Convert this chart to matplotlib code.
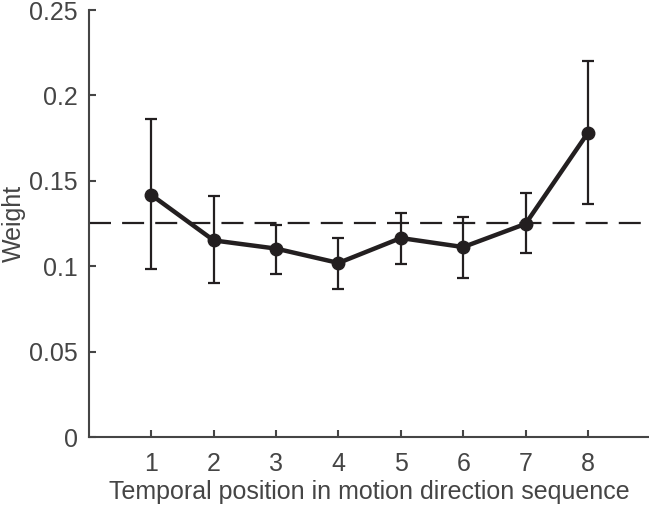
import matplotlib
matplotlib.use("Agg")
import matplotlib.pyplot as plt

positions = [1, 2, 3, 4, 5, 6, 7, 8]
weights = [0.1417, 0.1151, 0.1103, 0.1019, 0.1165, 0.1112, 0.1248, 0.1781]
err_upper = [0.1862, 0.1413, 0.1242, 0.1165, 0.1314, 0.1289, 0.1430, 0.2202]
err_lower = [0.0984, 0.0903, 0.0955, 0.0868, 0.1013, 0.0932, 0.1077, 0.1362]
chance = 0.125
yticks = [0, 0.05, 0.1, 0.15, 0.2, 0.25]
yticklabels = ["0", "0.05", "0.1", "0.15", "0.2", "0.25"]

plt.rcParams['font.family'] = ['Liberation Sans', 'DejaVu Sans']
txt = '#454545'
ink = '#231f20'

fig = plt.figure(figsize=(6.49, 5.11), dpi=100)
ax = fig.add_axes([89/649, 1 - 437/511, 1 - 89/649 + 0.002, (437 - 10)/511])

ax.axhline(chance, color=ink, lw=1.6, dashes=(9.9, 5.0), zorder=1)
yerr = [[w - l for w, l in zip(weights, err_lower)], [u - w for w, u in zip(weights, err_upper)]]
ax.errorbar(positions, weights, yerr=yerr, fmt='none', ecolor=ink, elinewidth=1.6,
            capsize=4, capthick=1.6, zorder=2)
ax.plot(positions, weights, color=ink, lw=3.2, marker='o', markersize=9, zorder=3)

ax.set_xlim(0, 9)
ax.set_ylim(0, 0.25)
ax.set_xticks(positions)
ax.set_xticklabels([str(p) for p in positions])
ax.set_yticks(yticks)
ax.set_yticklabels(yticklabels)
for s in ['top', 'right']:
    ax.spines[s].set_visible(False)
for s in ['left', 'bottom']:
    ax.spines[s].set_color(txt)
    ax.spines[s].set_linewidth(1.5)
ax.tick_params(direction='in', length=5, width=1.5, colors=txt, labelsize=18, labelcolor=txt)
ax.tick_params(axis='x', pad=11)
ax.tick_params(axis='y', pad=8)
ax.set_xlabel('Temporal position in motion direction sequence', fontsize=18, color=txt, labelpad=3)
ax.set_ylabel('Weight', fontsize=18, color=txt)
ax.yaxis.set_label_coords(-0.113, 0.5)

fig.savefig('out.png', dpi=100)
